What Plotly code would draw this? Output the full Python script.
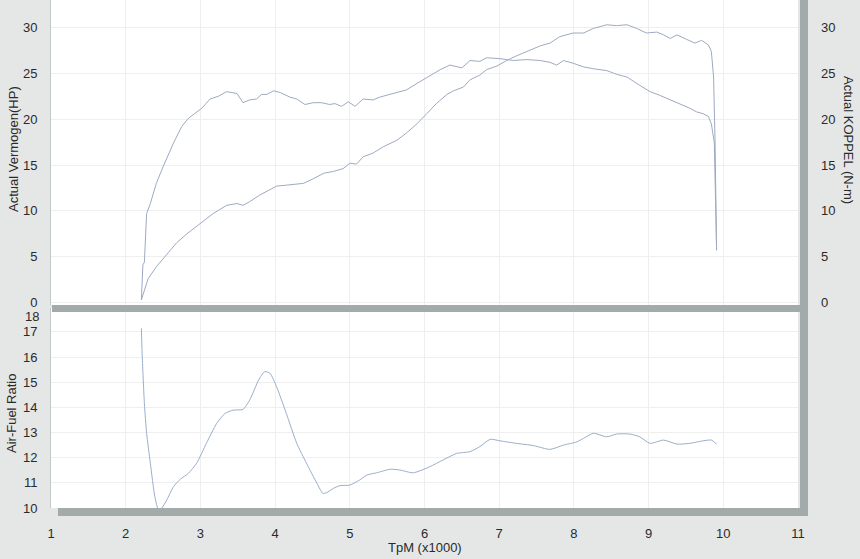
import plotly.graph_objects as go

# ---------------- data ----------------
x_ticks = [1, 2, 3, 4, 5, 6, 7, 8, 9, 10, 11]
hp_ticks = [0, 5, 10, 15, 20, 25, 30]
afr_ticks = [10, 11, 12, 13, 14, 15, 16, 17]

power_rpm = [2.21, 2.24, 2.30, 2.41, 2.55, 2.68, 2.82, 2.99, 3.17, 3.35,
             3.49, 3.57, 3.66, 3.79, 3.93, 4.02, 4.15, 4.38, 4.51, 4.65,
             4.78, 4.91, 5.00, 5.09, 5.18, 5.31, 5.45, 5.63, 5.76, 5.90,
             6.03, 6.16, 6.30, 6.39, 6.52, 6.61, 6.74, 6.83, 6.97, 7.10,
             7.23, 7.37, 7.55, 7.68, 7.81, 7.99, 8.13, 8.26, 8.44, 8.57,
             8.71, 8.84, 8.97, 9.11, 9.20, 9.29, 9.38, 9.51, 9.62, 9.71,
             9.80, 9.84, 9.87, 9.89, 9.91]
power_hp = [0.3, 1.0, 2.6, 3.9, 5.2, 6.5, 7.5, 8.6, 9.7, 10.6,
            10.8, 10.6, 11.0, 11.7, 12.3, 12.7, 12.8, 13.0, 13.5, 14.1,
            14.3, 14.6, 15.2, 15.1, 15.9, 16.3, 17.0, 17.7, 18.5, 19.5,
            20.6, 21.7, 22.7, 23.1, 23.5, 24.3, 24.8, 25.4, 25.8, 26.4,
            26.9, 27.4, 28.0, 28.3, 29.0, 29.4, 29.4, 29.9, 30.3, 30.2,
            30.3, 29.9, 29.4, 29.5, 29.2, 28.8, 29.2, 28.7, 28.3, 28.6,
            28.1, 27.4, 24.6, 17.4, 5.7]

torque_rpm = [2.21, 2.23, 2.25, 2.28, 2.33, 2.41, 2.50, 2.64, 2.75, 2.84,
              3.02, 3.13, 3.24, 3.35, 3.49, 3.57, 3.66, 3.75, 3.82, 3.89,
              3.98, 4.07, 4.20, 4.29, 4.40, 4.51, 4.62, 4.73, 4.80, 4.89,
              4.98, 5.07, 5.18, 5.31, 5.40, 5.58, 5.76, 5.90, 6.05, 6.21,
              6.34, 6.50, 6.61, 6.74, 6.83, 7.01, 7.19, 7.37, 7.55, 7.68,
              7.77, 7.86, 7.99, 8.13, 8.26, 8.44, 8.57, 8.71, 8.88, 9.02,
              9.15, 9.29, 9.42, 9.55, 9.64, 9.73, 9.80, 9.84, 9.88, 9.91]
torque_nm = [0.3, 4.1, 4.4, 9.7, 10.8, 13.0, 14.8, 17.4, 19.2, 20.1,
             21.2, 22.2, 22.5, 23.0, 22.8, 21.8, 22.1, 22.2, 22.7, 22.7,
             23.1, 22.9, 22.4, 22.2, 21.6, 21.8, 21.8, 21.6, 21.7, 21.4,
             21.9, 21.4, 22.2, 22.1, 22.4, 22.8, 23.2, 23.9, 24.6, 25.4,
             25.9, 25.6, 26.4, 26.3, 26.7, 26.6, 26.4, 26.5, 26.4, 26.2,
             25.9, 26.4, 26.1, 25.7, 25.5, 25.3, 24.9, 24.6, 23.7, 23.0,
             22.6, 22.1, 21.7, 21.2, 20.8, 20.6, 20.3, 19.5, 17.4, 5.7]

afr_rpm = [2.21, 2.22, 2.25, 2.28, 2.33, 2.39, 2.44, 2.48, 2.55, 2.64,
           2.73, 2.84, 2.95, 3.08, 3.22, 3.33, 3.44, 3.57, 3.66, 3.78,
           3.86, 3.93, 4.02, 4.15, 4.29, 4.42, 4.56, 4.64, 4.69, 4.78,
           4.87, 5.00, 5.13, 5.23, 5.36, 5.54, 5.67, 5.85, 6.07, 6.25,
           6.43, 6.61, 6.74, 6.88, 7.01, 7.23, 7.46, 7.68, 7.86, 8.04,
           8.13, 8.26, 8.44, 8.57, 8.75, 8.88, 9.02, 9.20, 9.38, 9.55,
           9.73, 9.84, 9.91]
afr = [17.14, 16.15, 14.16, 12.97, 11.78, 10.45, 9.92, 9.99, 10.32, 10.85,
       11.14, 11.38, 11.78, 12.57, 13.37, 13.76, 13.89, 13.92, 14.29, 15.09,
       15.42, 15.36, 14.82, 13.76, 12.57, 11.78, 10.98, 10.58, 10.61, 10.78,
       10.89, 10.91, 11.11, 11.31, 11.40, 11.54, 11.51, 11.40, 11.64, 11.91,
       12.17, 12.24, 12.44, 12.73, 12.67, 12.57, 12.48, 12.33, 12.50, 12.63,
       12.77, 12.97, 12.83, 12.94, 12.94, 12.83, 12.57, 12.70, 12.54, 12.57,
       12.67, 12.70, 12.54]

# ---------------- geometry helpers ----------------
W, H = 860, 559
ML, MR, MT, MB = 51, 62, 0, 51
PW = W - ML - MR
PH = H - MT - MB


def px(xp):
    return (xp - ML) / PW


def py(yp):
    return (H - MB - yp) / PH


FONT = "Liberation Sans, Arial, sans-serif"
LINE = "#9eaac2"
AFR_C = "#9aaecb"
BAR = "#a2abaa"
GRID = "#efefef"
BG = "#e5e7e7"
TXT = "#2a2a2a"

fig = go.Figure()
fig.add_trace(go.Scatter(x=power_rpm, y=power_hp, mode="lines", xaxis="x", yaxis="y",
                         line=dict(color=LINE, width=1), name="Vermogen"))
fig.add_trace(go.Scatter(x=torque_rpm, y=torque_nm, mode="lines", xaxis="x", yaxis="y2",
                         line=dict(color=LINE, width=1), name="Koppel"))
fig.add_trace(go.Scatter(x=afr_rpm, y=afr, mode="lines", xaxis="x", yaxis="y3",
                         line=dict(color=AFR_C, width=1, shape="spline", smoothing=0.6),
                         name="AFR"))

tickfont = dict(family=FONT, size=13, color=TXT)

fig.update_layout(
    width=W, height=H,
    margin=dict(l=ML, r=MR, t=MT, b=MB, pad=0),
    paper_bgcolor=BG,
    plot_bgcolor="#ffffff",
    showlegend=False,
    xaxis=dict(range=[1, 11], tickvals=x_ticks, anchor="y3", showgrid=True,
               gridcolor=GRID, zeroline=False, ticks="", tickfont=tickfont,
               ticklabelstandoff=16, showline=False),
    yaxis=dict(domain=[py(305), 1], range=[-0.27, 33], tickvals=hp_ticks,
               anchor="x", side="left", showgrid=True, gridcolor=GRID,
               zeroline=False, ticks="", tickfont=tickfont, ticklabelstandoff=10,
               showline=True, linecolor="#c3c9c9", linewidth=1),
    yaxis2=dict(range=[-0.27, 33], tickvals=hp_ticks, overlaying="y", side="right",
                anchor="x", showgrid=False, zeroline=False, ticks="",
                tickfont=tickfont, ticklabelstandoff=22),
    yaxis3=dict(domain=[0, py(308)], range=[10, 17.95], tickvals=afr_ticks,
                anchor="x", side="left", showgrid=True, gridcolor=GRID,
                zeroline=False, ticks="", tickfont=tickfont, ticklabelstandoff=10,
                showline=True, linecolor="#c3c9c9", linewidth=1),
    shapes=[
        dict(type="rect", xref="paper", yref="paper", x0=px(52), x1=px(800),
             y0=py(312), y1=py(305), fillcolor=BAR, line=dict(width=0), layer="above"),
        dict(type="rect", xref="paper", yref="paper", x0=px(58), x1=px(808),
             y0=py(516), y1=py(508), fillcolor=BAR, line=dict(width=0), layer="above"),
        dict(type="rect", xref="paper", yref="paper", x0=px(800), x1=px(808),
             y0=py(516), y1=py(0), fillcolor=BAR, line=dict(width=0), layer="above"),
    ],
    annotations=[
        dict(text="Actual Vermogen(HP)", xref="paper", yref="paper", x=px(13), y=py(149),
             textangle=-90, showarrow=False, font=dict(family=FONT, size=13, color=TXT),
             xanchor="center", yanchor="middle"),
        dict(text="Air-Fuel Ratio", xref="paper", yref="paper", x=px(11), y=py(414),
             textangle=-90, showarrow=False, font=dict(family=FONT, size=13, color=TXT),
             xanchor="center", yanchor="middle"),
        dict(text="Actual KOPPEL (N-m)", xref="paper", yref="paper", x=px(848), y=py(140),
             textangle=90, showarrow=False, font=dict(family=FONT, size=13, color=TXT),
             xanchor="center", yanchor="middle"),
        dict(text="TpM (x1000)", xref="paper", yref="paper", x=px(425), y=py(547),
             showarrow=False, font=dict(family=FONT, size=13, color=TXT),
             xanchor="center", yanchor="middle"),
        dict(text="18", xref="paper", yref="paper", x=px(41), y=py(316),
             showarrow=False, font=tickfont, xanchor="right", yanchor="middle"),
    ],
)

fig.write_html(
    "out.html",
    config={"displayModeBar": False},
    post_script=(
        "document.body.style.margin='0';"
        "document.body.style.padding='0';"
        "document.body.style.overflow='hidden';"
        f"document.body.style.background='{BG}';"
    ),
)
